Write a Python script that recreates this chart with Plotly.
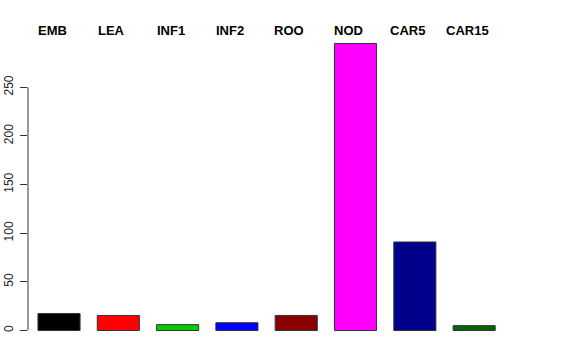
import plotly.graph_objects as go

categories = ["EMB", "LEA", "INF1", "INF2", "ROO", "NOD", "CAR5", "CAR15"]
values = [17.5, 15.5, 6, 8, 15.5, 295, 91, 5]
colors = ["#000000", "#FF0000", "#00CD00", "#0000FF", "#8B0000", "#FF00FF", "#00008B", "#006400"]
yticks = [0, 50, 100, 150, 200, 250]

fig = go.Figure()
fig.add_trace(go.Bar(
    x=categories, y=values,
    marker=dict(color=colors, line=dict(color="#333333", width=1)),
    width=0.71,
))

for c in categories:
    fig.add_annotation(x=c, y=1, yref="paper", yanchor="middle", xanchor="center",
                       xshift=-7, yshift=2, text="<b>%s</b>" % c, showarrow=False,
                       font=dict(size=13, color="black", family="Liberation Sans"))

fig.add_shape(type="line", xref="paper", x0=0, x1=0, y0=0, y1=250,
              line=dict(color="#333333", width=1))

fig.update_layout(
    width=576, height=360,
    margin=dict(l=28, r=55, t=31.5, b=17.5),
    paper_bgcolor="white", plot_bgcolor="white",
    showlegend=False,
    font=dict(family="Liberation Sans", size=12, color="black"),
    xaxis=dict(range=[-0.523, 7.79], showticklabels=False, showgrid=False,
               zeroline=False, showline=False, ticks="", automargin=False),
    yaxis=dict(range=[-11.8, 306.8], tickvals=yticks, ticktext=[str(v) for v in yticks],
               tickangle=-90, ticks="outside", ticklen=7, tickcolor="#333333",
               ticklabelstandoff=2,
               showgrid=False, zeroline=False, showline=False, automargin=False,
               tickfont=dict(size=12, color="#222222")),
)

fig.write_html("out.html")
